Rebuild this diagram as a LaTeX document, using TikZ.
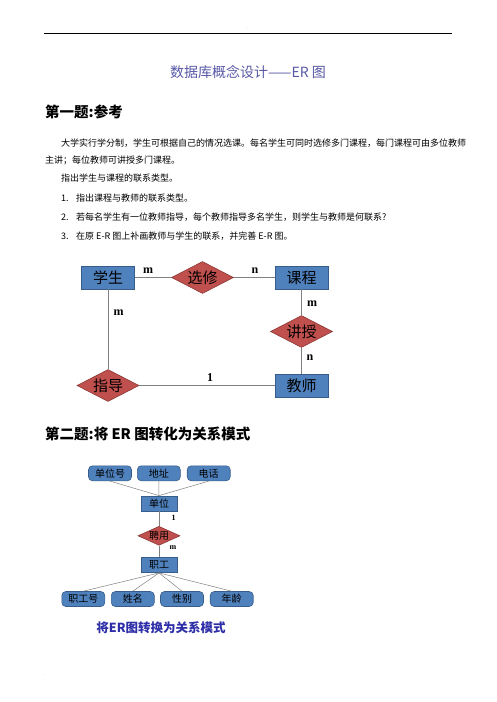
\documentclass[tikz,border=0pt]{standalone}
\usepackage{fontspec}
\setmainfont{Noto Sans CJK SC}
\newfontfamily\labelfont{Liberation Serif}
\usepackage{xcolor}
\usetikzlibrary{shapes.geometric}

\definecolor{entityfill}{HTML}{4F81BD}
\definecolor{entityedge}{HTML}{385D8A}
\definecolor{relfill}{HTML}{C0504D}
\definecolor{reledge}{HTML}{8C3836}
\definecolor{titleblue}{HTML}{5858A6}
\definecolor{captionblue}{HTML}{2E2EA8}

\begin{document}
\begin{tikzpicture}[
    x=1pt,
    y=-1pt,
    plaintext/.style={
        anchor=west,
        inner sep=0pt,
        font=\fontsize{9}{9}\selectfont
    },
    heading/.style={
        anchor=west,
        inner sep=0pt,
        font=\fontsize{14.5}{14.5}\selectfont\bfseries
    },
    entity/.style={
        draw=entityedge,
        fill=entityfill,
        line width=0.8pt,
        minimum width=53pt,
        minimum height=23pt,
        inner sep=0pt,
        font=\fontsize{15}{15}\selectfont
    },
    relation/.style={
        diamond,
        aspect=1.9,
        draw=reledge,
        fill=relfill,
        line width=0.6pt,
        minimum width=62pt,
        minimum height=32pt,
        inner sep=0pt,
        font=\fontsize{15}{15}\selectfont
    },
    smallentity/.style={
        entity,
        minimum width=36pt,
        minimum height=15pt,
        font=\fontsize{10}{10}\selectfont
    },
    smallrelation/.style={
        relation,
        aspect=2.2,
        minimum width=42pt,
        minimum height=19pt,
        font=\fontsize{10}{10}\selectfont
    },
    attribute/.style={
        draw=entityedge,
        fill=entityfill,
        rounded corners=4pt,
        line width=0.6pt,
        minimum width=43pt,
        minimum height=15pt,
        inner sep=0pt,
        font=\fontsize{10}{10}\selectfont
    },
    link/.style={
        draw=black!50,
        line width=0.9pt
    },
    thinlink/.style={
        draw=black!50,
        line width=0.5pt
    },
    card/.style={
        inner sep=0pt,
        font=\fontsize{12}{12}\labelfont\bfseries
    },
    smallcard/.style={
        inner sep=0pt,
        font=\fontsize{8}{8}\labelfont\bfseries
    }
]

\useasboundingbox (0,0) rectangle (496,702);

% page header
\node[inner sep=0pt,font=\tiny,text=black!40] (hdot) at (247,28) {.};
\coordinate (hl) at (44,33);
\coordinate (hr) at (452,33);
\draw[line width=0.8pt] (hl) -- (hr);

\node[inner sep=0pt,font=\fontsize{14}{14}\selectfont,text=titleblue]
    (title) at (248,72) {数据库概念设计——ER 图};

% question one
\node[heading] (q1) at (45,112) {第一题:参考};

\node[plaintext] (p1) at (61,143)
{大学实行学分制，学生可根据自己的情况选课。每名学生可同时选修多门课程，每门课程可由多位教师};
\node[plaintext] (p2) at (45,160) {主讲；每位教师可讲授多门课程。};
\node[plaintext] (p3) at (61,178) {指出学生与课程的联系类型。};

\node[plaintext] (n1) at (61,198) {1.};
\node[plaintext] (t1) at (76,198) {指出课程与教师的联系类型。};
\node[plaintext] (n2) at (61,217) {2.};
\node[plaintext] (t2) at (76,217)
{若每名学生有一位教师指导，每个教师指导多名学生，则学生与教师是何联系?};
\node[plaintext] (n3) at (61,236) {3.};
\node[plaintext] (t3) at (76,236) {在原 E-R 图上补画教师与学生的联系，并完善 E-R 图。};

% ER diagram one
\node[entity] (student) at (108,277.5) {学生};
\node[relation] (elect) at (202.5,277.5) {选修};
\node[entity] (course) at (301.5,277.5) {课程};
\node[relation] (teach) at (301.5,331.5) {讲授};
\node[entity] (teacher) at (301.5,385.5) {教师};
\node[relation] (guide) at (108,385.5) {指导};

\draw[link] (student) -- (elect);
\draw[link] (elect) -- (course);
\draw[link] (course) -- (teach);
\draw[link] (teach) -- (teacher);
\draw[link] (student) -- (guide);
\draw[link] (guide) -- (teacher);

\node[card] (c1) at (148,270.5) {m};
\node[card] (c2) at (255,270.5) {n};
\node[card] (c3) at (312,304) {m};
\node[card] (c4) at (310,358) {n};
\node[card] (c5) at (118.5,313) {m};
\node[card] (c6) at (210,377.5) {1};

% question two
\node[heading] (q2) at (45,433.5) {第二题:将 ER 图转化为关系模式};

% ER diagram two
\node[attribute] (unitno) at (110,473.3) {单位号};
\node[attribute] (addr) at (158.8,473.3) {地址};
\node[attribute] (phone) at (208.7,473.3) {电话};
\node[smallentity] (unit) at (159,503.5) {单位};
\node[smallrelation] (hire) at (159,535.8) {聘用};
\node[smallentity] (staff) at (159,565) {职工};
\node[attribute] (staffno) at (83.3,599) {职工号};
\node[attribute] (name) at (132.8,599) {姓名};
\node[attribute] (sex) at (182,599) {性别};
\node[attribute] (age) at (231.7,599) {年龄};

\draw[thinlink] (unitno.south) -- (unit.north);
\draw[thinlink] (addr.south) -- (unit.north);
\draw[thinlink] (phone.south) -- (unit.north);
\draw[thinlink] (unit) -- (hire);
\draw[thinlink] (hire) -- (staff);
\draw[thinlink] (staff.south) -- (staffno.north);
\draw[thinlink] (staff.south) -- (name.north);
\draw[thinlink] (staff.south) -- (sex.north);
\draw[thinlink] (staff.south) -- (age.north);

\node[smallcard] (c7) at (173.5,517.5) {1};
\node[smallcard] (c8) at (173,547.5) {m};

\node[inner sep=0pt,font=\fontsize{12.5}{12.5}\selectfont\bfseries,text=captionblue]
    (caption) at (161,628) {将ER图转换为关系模式};

% page footer
\node[inner sep=0pt,font=\tiny,text=black!40] (fdot) at (45,675) {.};

\end{tikzpicture}
\end{document}
